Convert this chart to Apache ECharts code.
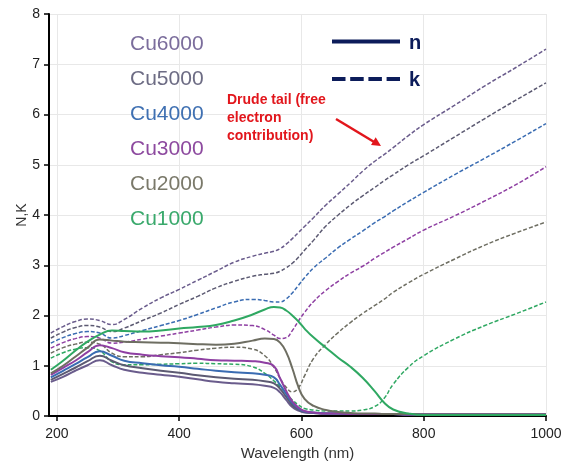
<!DOCTYPE html>
<html>
<head>
<meta charset="utf-8">
<script src="https://cdn.jsdelivr.net/npm/echarts@6/dist/echarts.min.js"></script>
<style>
  html, body { margin: 0; padding: 0; background: #fff; }
  #chart { width: 570px; height: 463px; }
</style>
</head>
<body>
<div id="chart"></div>
<script>
// wavelength grid (nm) shared by all curves
const wavelength = [190, 210, 230, 250, 270, 290, 310, 340, 370, 400, 430, 460, 490, 520, 540, 555, 565, 575, 585, 595, 605, 620, 640, 660, 680, 700, 720, 735, 750, 775, 800, 850, 900, 950, 1000];

const samples = ['Cu6000', 'Cu5000', 'Cu4000', 'Cu3000', 'Cu2000', 'Cu1000'];
const labelColors = ['#7b6d9c', '#6d6c84', '#3f70b2', '#8d4a9f', '#7a796a', '#3aa96c'];
const lineColors = ['#6a5c8c', '#5c5a72', '#3a6cb2', '#8e3fa2', '#6e6e62', '#2fa862'];

// n (solid)
const n6000 = [0.68, 0.78, 0.90, 1.01, 1.11, 1.01, 0.92, 0.86, 0.82, 0.78, 0.73, 0.68, 0.65, 0.63, 0.60, 0.56, 0.47, 0.32, 0.18, 0.11, 0.07, 0.06, 0.05, 0.05, 0.04, 0.04, 0.04, 0.04, 0.04, 0.03, 0.03, 0.03, 0.03, 0.03, 0.03];
const n5000 = [0.72, 0.84, 0.96, 1.09, 1.20, 1.10, 1.01, 0.95, 0.90, 0.86, 0.81, 0.77, 0.74, 0.72, 0.69, 0.65, 0.54, 0.38, 0.22, 0.13, 0.08, 0.06, 0.05, 0.05, 0.04, 0.04, 0.04, 0.04, 0.04, 0.03, 0.03, 0.03, 0.03, 0.03, 0.03];
const n4000 = [0.77, 0.90, 1.03, 1.17, 1.29, 1.20, 1.10, 1.05, 1.01, 0.98, 0.94, 0.90, 0.87, 0.85, 0.82, 0.77, 0.62, 0.44, 0.26, 0.15, 0.09, 0.07, 0.05, 0.05, 0.04, 0.04, 0.04, 0.04, 0.04, 0.03, 0.03, 0.03, 0.03, 0.03, 0.03];
const n3000 = [0.82, 0.96, 1.10, 1.27, 1.41, 1.35, 1.27, 1.22, 1.19, 1.17, 1.14, 1.11, 1.10, 1.09, 1.06, 0.99, 0.75, 0.50, 0.29, 0.17, 0.10, 0.07, 0.05, 0.05, 0.04, 0.04, 0.04, 0.04, 0.04, 0.03, 0.03, 0.03, 0.03, 0.03, 0.03];
const n2000 = [0.85, 1.00, 1.18, 1.36, 1.52, 1.50, 1.48, 1.47, 1.46, 1.45, 1.43, 1.42, 1.44, 1.50, 1.54, 1.53, 1.46, 1.27, 0.95, 0.58, 0.34, 0.20, 0.12, 0.08, 0.06, 0.05, 0.05, 0.04, 0.04, 0.04, 0.03, 0.03, 0.03, 0.03, 0.03];
const n1000 = [0.92, 1.10, 1.30, 1.48, 1.62, 1.70, 1.69, 1.68, 1.70, 1.74, 1.77, 1.81, 1.90, 2.02, 2.12, 2.17, 2.16, 2.10, 2.00, 1.88, 1.74, 1.56, 1.36, 1.16, 0.98, 0.76, 0.49, 0.27, 0.13, 0.05, 0.02, 0.02, 0.02, 0.02, 0.02];

// k (dashed)
const k6000 = [1.65, 1.78, 1.88, 1.93, 1.90, 1.82, 1.92, 2.15, 2.35, 2.52, 2.70, 2.88, 3.06, 3.18, 3.24, 3.28, 3.33, 3.42, 3.53, 3.65, 3.77, 3.95, 4.20, 4.42, 4.64, 4.87, 5.07, 5.20, 5.34, 5.58, 5.80, 6.18, 6.57, 6.93, 7.30];
const k5000 = [1.55, 1.67, 1.76, 1.80, 1.77, 1.68, 1.75, 1.90, 2.05, 2.22, 2.38, 2.55, 2.68, 2.78, 2.82, 2.84, 2.88, 2.95, 3.04, 3.16, 3.30, 3.50, 3.78, 4.00, 4.20, 4.38, 4.55, 4.68, 4.80, 5.00, 5.18, 5.55, 5.92, 6.28, 6.63];
const k4000 = [1.45, 1.56, 1.64, 1.68, 1.65, 1.55, 1.60, 1.70, 1.80, 1.90, 2.02, 2.15, 2.27, 2.32, 2.30, 2.27, 2.27, 2.33, 2.45, 2.60, 2.75, 2.95, 3.15, 3.35, 3.52, 3.68, 3.85, 3.96, 4.08, 4.27, 4.45, 4.80, 5.13, 5.47, 5.82];
const k3000 = [1.35, 1.46, 1.54, 1.58, 1.55, 1.45, 1.47, 1.53, 1.59, 1.65, 1.71, 1.77, 1.81, 1.80, 1.72, 1.61, 1.54, 1.56, 1.70, 1.89, 2.06, 2.28, 2.50, 2.68, 2.84, 2.98, 3.14, 3.25, 3.36, 3.53, 3.70, 3.98, 4.28, 4.60, 4.96];
const k2000 = [1.25, 1.36, 1.43, 1.47, 1.43, 1.25, 1.18, 1.18, 1.22, 1.26, 1.31, 1.35, 1.37, 1.33, 1.20, 0.97, 0.75, 0.57, 0.48, 0.56, 0.80, 1.15, 1.43, 1.66, 1.86, 2.04, 2.20, 2.32, 2.46, 2.65, 2.82, 3.12, 3.40, 3.64, 3.86];
const k1000 = [1.15, 1.26, 1.33, 1.36, 1.30, 1.08, 1.02, 1.02, 1.03, 1.04, 1.05, 1.04, 1.03, 0.98, 0.85, 0.70, 0.58, 0.45, 0.32, 0.22, 0.15, 0.12, 0.10, 0.10, 0.10, 0.12, 0.19, 0.35, 0.63, 0.97, 1.20, 1.53, 1.80, 2.03, 2.27];

const nSets = [n6000, n5000, n4000, n3000, n2000, n1000];
const kSets = [k6000, k5000, k4000, k3000, k2000, k1000];
const xTicks = [200, 400, 600, 800, 1000];

const chart = echarts.init(document.getElementById('chart'), null, { renderer: 'canvas' });

const series = [];
kSets.forEach((arr, i) => {
  series.push({
    name: samples[i] + ' k',
    type: 'line',
    smooth: 0.5,
    showSymbol: false,
    data: wavelength.map((w, j) => [w, arr[j]]),
    lineStyle: { color: lineColors[i], width: 1.5, type: [4, 2] },
    itemStyle: { color: lineColors[i] },
  });
});
nSets.forEach((arr, i) => {
  series.push({
    name: samples[i] + ' n',
    type: 'line',
    smooth: 0.5,
    showSymbol: false,
    data: wavelength.map((w, j) => [w, arr[j]]),
    lineStyle: { color: lineColors[i], width: 2 },
    itemStyle: { color: lineColors[i] },
  });
});

const font = '"Liberation Sans", Arial, sans-serif';
const navy = '#0c1c5a';
const red = '#e2161c';

const graphics = samples.map((s, i) => ({
  type: 'text',
  z: 100,
  style: {
    text: s, x: 130, y: 44.5 + 35 * i,
    fill: labelColors[i], font: '21px ' + font, verticalAlign: 'middle',
  },
}));

graphics.push(
  // y axis title, drawn by hand so it sits where the original puts it
  { type: 'text', z: 100, x: 22, y: 215, rotation: Math.PI / 2, style: { text: 'N,K', fill: '#333', font: '14px ' + font, align: 'center', verticalAlign: 'middle' } },
  { type: 'line', z: 100, shape: { x1: 332, y1: 41.5, x2: 400, y2: 41.5 }, style: { stroke: navy, lineWidth: 4 } },
  { type: 'line', z: 100, shape: { x1: 332, y1: 79, x2: 400, y2: 79 }, style: { stroke: navy, lineWidth: 4, lineDash: [13.5, 4.7] } },
  { type: 'text', z: 100, style: { text: 'n', x: 409, y: 43, fill: navy, font: 'bold 20px ' + font, verticalAlign: 'middle' } },
  { type: 'text', z: 100, style: { text: 'k', x: 409, y: 80, fill: navy, font: 'bold 20px ' + font, verticalAlign: 'middle' } },
  { type: 'text', z: 100, style: { text: 'Drude tail (free', x: 227, y: 100, fill: red, font: 'bold 14px ' + font, verticalAlign: 'middle' } },
  { type: 'text', z: 100, style: { text: 'electron', x: 227, y: 118, fill: red, font: 'bold 14px ' + font, verticalAlign: 'middle' } },
  { type: 'text', z: 100, style: { text: 'contribution)', x: 227, y: 136, fill: red, font: 'bold 14px ' + font, verticalAlign: 'middle' } },
  { type: 'line', z: 100, shape: { x1: 336, y1: 119, x2: 375, y2: 142.5 }, style: { stroke: red, lineWidth: 2.5 } },
  { type: 'polygon', z: 100, shape: { points: [[381, 146], [371, 145.1], [375.7, 137.3]] }, style: { fill: red } }
);

chart.setOption({
  animation: false,
  backgroundColor: '#fff',
  textStyle: { fontFamily: font },
  grid: { left: 49, right: 24, top: 14, bottom: 47, containLabel: false, outerBoundsMode: 'none' },
  xAxis: {
    type: 'value',
    min: 187,
    max: 1000,
    name: 'Wavelength (nm)',
    nameLocation: 'middle',
    nameGap: 29,
    nameTextStyle: { fontSize: 15, color: '#333' },
    axisLine: { show: true, onZero: false, lineStyle: { color: '#000', width: 2 } },
    axisTick: { show: true, length: 5, customValues: xTicks, lineStyle: { color: '#000', width: 1.5 } },
    axisLabel: { customValues: xTicks, fontSize: 14, color: '#222', margin: 11, formatter: v => String(v) },
    splitLine: { show: true, lineStyle: { color: '#e8e8e8', width: 1 } },
  },
  yAxis: {
    type: 'value',
    min: 0,
    max: 8,
    interval: 1,
    axisLine: { show: true, lineStyle: { color: '#000', width: 2 } },
    axisTick: { show: true, length: 5, lineStyle: { color: '#000', width: 1.5 } },
    axisLabel: { fontSize: 14, color: '#222', margin: 9 },
    splitLine: { show: true, lineStyle: { color: '#e8e8e8', width: 1 } },
  },
  graphic: graphics,
  series: series,
});
</script>
</body>
</html>
